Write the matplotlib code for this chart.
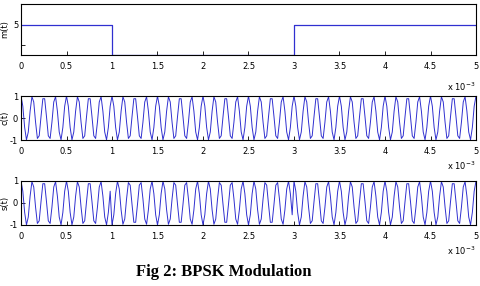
import matplotlib
matplotlib.use("Agg")
import matplotlib.pyplot as plt
import numpy as np

# data bits (one per ms) and carrier settings
bits = [1, 0, 0, 1, 1]
bit_time = 1e-3
fc = 8000          # 40 carrier cycles in 5 ms
fs = 50000         # coarse sampling, gives the jagged look
xticks = [0, 0.5, 1, 1.5, 2, 2.5, 3, 3.5, 4, 4.5, 5]
xtick_labels = ['0', '0.5', '1', '1.5', '2', '2.5', '3', '3.5', '4', '4.5', '5']

t = np.arange(0, len(bits) * bit_time + 1 / fs, 1 / fs)
idx = np.minimum((t / bit_time).astype(int), len(bits) - 1)
m = np.array(bits)[idx]
c = np.cos(2 * np.pi * fc * t)
s = np.where(m == 1, 1, -1) * c

blue = '#3030d0'
fig = plt.figure(figsize=(4.81, 2.86), dpi=100)

# axes boxes in pixel units (left, top, right, bottom)
boxes = [(21, 4, 476, 55), (21, 96, 476, 140), (21, 181, 476, 225)]
W, H = 481, 286
axes = []
for l, tp, r, b in boxes:
    ax = fig.add_axes([l / W, 1 - b / H, (r - l) / W, (b - tp) / H])
    axes.append(ax)

# m(t) as steps
tm = np.arange(len(bits) + 1) * bit_time
axes[0].step(tm, bits + [bits[-1]], where='post', color=blue, lw=0.9)
axes[0].set_ylim(0, 1.7)
axes[0].set_yticks([0.33, 1])
axes[0].set_yticklabels(['', '5'])
axes[0].set_ylabel('m(t)', fontsize=6)

axes[1].plot(t, c, color=blue, lw=0.7)
axes[1].set_ylabel('c(t)', fontsize=6)
axes[2].plot(t, s, color=blue, lw=0.7)
axes[2].set_ylabel('s(t)', fontsize=6)
for ax in axes[1:]:
    ax.set_ylim(-1, 1)
    ax.set_yticks([-1, 0, 1])
    ax.set_yticklabels(['-1', '0', '1'])

for i, ax in enumerate(axes):
    ax.set_xlim(0, 5e-3)
    ax.set_xticks([v * 1e-3 for v in xticks])
    ax.set_xticklabels(xtick_labels)
    ax.tick_params(direction='in', length=3, width=0.6, labelsize=6, pad=5)
    ax.tick_params(axis='y', pad=2)
    ax.yaxis.set_label_coords(-0.026, 0.5)
    for sp in ax.spines.values():
        sp.set_linewidth(0.8)
    ax.text(1.0, -0.5 if i == 0 else -0.45, r'x 10$^{-3}$', transform=ax.transAxes,
            ha='right', va='top', fontsize=6)

fig.text(0.465, 0.05, 'Fig 2: BPSK Modulation', ha='center', va='center',
         fontsize=12, fontweight='bold', family='Liberation Serif')

fig.savefig('out.png', dpi=100)
